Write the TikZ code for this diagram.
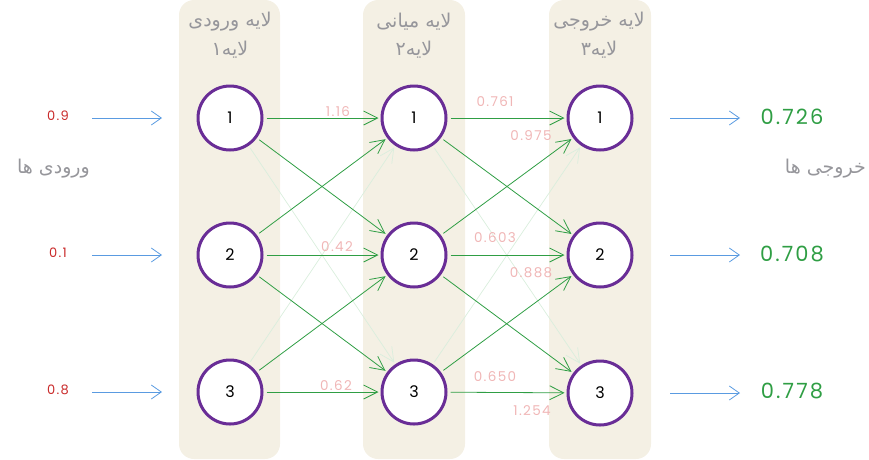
\documentclass[tikz,border=0pt]{standalone}
\usepackage{fontspec}
\setmainfont{Poppins}
\newfontfamily\hand[LetterSpace=10]{Poppins}
\newfontfamily\fa[Script=Arabic]{DejaVu Sans}
\usetikzlibrary{arrows.meta}
\TeXXeTstate=1
\definecolor{colbg}{RGB}{244,240,228}
\definecolor{neurc}{RGB}{105,45,150}
\definecolor{linkg}{RGB}{47,158,68}
\definecolor{wlab}{RGB}{240,182,182}
\definecolor{inred}{RGB}{201,42,42}
\definecolor{inblue}{RGB}{90,155,225}
\definecolor{fagray}{RGB}{150,150,155}
\tikzset{
  colbox/.style={fill=colbg, draw=none, rounded corners=15pt},
  neuron/.style={circle, draw=neurc, line width=3pt, fill=white, minimum size=64pt, inner sep=0pt, font=\hand\fontsize{16}{16}\selectfont},
  conn/.style={draw=linkg, line width=0.8pt, shorten <=3pt, shorten >=2pt, -{Straight Barb[length=14pt,width=14pt,line width=0.8pt]}},
  faint/.style={draw=linkg!18, line width=0.7pt, shorten <=3pt, shorten >=2pt, -{Straight Barb[length=14pt,width=14pt,line width=0.7pt]}},
  wl/.style={text=wlab, font=\hand\fontsize{13.5}{14}\selectfont, inner sep=0pt},
  inl/.style={text=inred, font=\hand\fontsize{13}{13}\selectfont, inner sep=0pt},
  outl/.style={text=linkg, font=\hand\fontsize{21}{21}\selectfont, inner sep=0pt},
  ioarrow/.style={draw=inblue, line width=0.8pt, -{Straight Barb[length=10pt,width=14pt,line width=0.8pt]}},
  head/.style={text=fagray, font=\fa\fontsize{19}{19}\selectfont, inner sep=0pt},
}
\begin{document}
\begin{tikzpicture}[x=1pt,y=-1pt]
\useasboundingbox (0,0) rectangle (869,459);
% columns
\fill[colbox] (179,0) rectangle (280,459);
\fill[colbox] (363,0) rectangle (465,459);
\fill[colbox] (549,0) rectangle (651,459);
% headers
\node[head] (h1a) at (230,22) {\beginR لایه ورودی\endR};
\node[head] (h1b) at (230,50) {\beginR لایه۱\endR};
\node[head] (h2a) at (414,22) {\beginR لایه میانی\endR};
\node[head] (h2b) at (414,50) {\beginR لایه۲\endR};
\node[head] (h3a) at (599,22) {\beginR لایه خروجی\endR};
\node[head] (h3b) at (599,50) {\beginR لایه۳\endR};
% side labels
\node[head, anchor=east] (inlab) at (90,169) {\beginR ورودی ها\endR};
\node[head, anchor=east] (outlab) at (866,169) {\beginR خروجی ها\endR};
% neurons
\node[neuron] (a1) at (230,118) {1};
\node[neuron] (a2) at (230,255) {2};
\node[neuron] (a3) at (230,392) {3};
\node[neuron] (b1) at (414,118) {1};
\node[neuron] (b2) at (414,255) {2};
\node[neuron] (b3) at (414,392) {3};
\node[neuron] (c1) at (600,118) {1};
\node[neuron] (c2) at (600,255) {2};
\node[neuron] (c3) at (600,393) {3};
% faint links
\draw[faint] (a1) -- (b3);
\draw[faint] (a3) -- (b1);
\draw[faint] (b1) -- (c3);
\draw[faint] (b3) -- (c1);
% links
\foreach \s/\t in {a1/b1,a1/b2,a2/b1,a2/b2,a2/b3,a3/b2,a3/b3,
                   b1/c1,b1/c2,b2/c1,b2/c2,b2/c3,b3/c2,b3/c3}
  \draw[conn] (\s) -- (\t);
% weight labels
\node[wl] (w1) at (338,112) {1.16};
\node[wl] (w2) at (337,247) {0.42};
\node[wl] (w3) at (336,386) {0.62};
\node[wl] (w4) at (495,102) {0.761};
\node[wl] (w5) at (531,136) {0.975};
\node[wl] (w6) at (495,238) {0.603};
\node[wl] (w7) at (531,273) {0.888};
\node[wl] (w8) at (495,377) {0.650};
\node[wl] (w9) at (532,411) {1.254};
% inputs
\node[inl] (i1) at (58,116) {0.9};
\node[inl] (i2) at (58,253) {0.1};
\node[inl] (i3) at (58,390) {0.8};
\coordinate (is1) at (92,118); \coordinate (ie1) at (162,118);
\coordinate (is2) at (92,255); \coordinate (ie2) at (162,255);
\coordinate (is3) at (92,392); \coordinate (ie3) at (162,392);
\draw[ioarrow] (is1) -- (ie1);
\draw[ioarrow] (is2) -- (ie2);
\draw[ioarrow] (is3) -- (ie3);
% outputs
\coordinate (os1) at (670,118); \coordinate (oe1) at (740,118);
\coordinate (os2) at (670,255); \coordinate (oe2) at (740,255);
\coordinate (os3) at (670,393); \coordinate (oe3) at (740,393);
\draw[ioarrow] (os1) -- (oe1);
\draw[ioarrow] (os2) -- (oe2);
\draw[ioarrow] (os3) -- (oe3);
\node[outl] (o1) at (792,117) {0.726};
\node[outl] (o2) at (792,254) {0.708};
\node[outl] (o3) at (792,391) {0.778};
\end{tikzpicture}
\end{document}
